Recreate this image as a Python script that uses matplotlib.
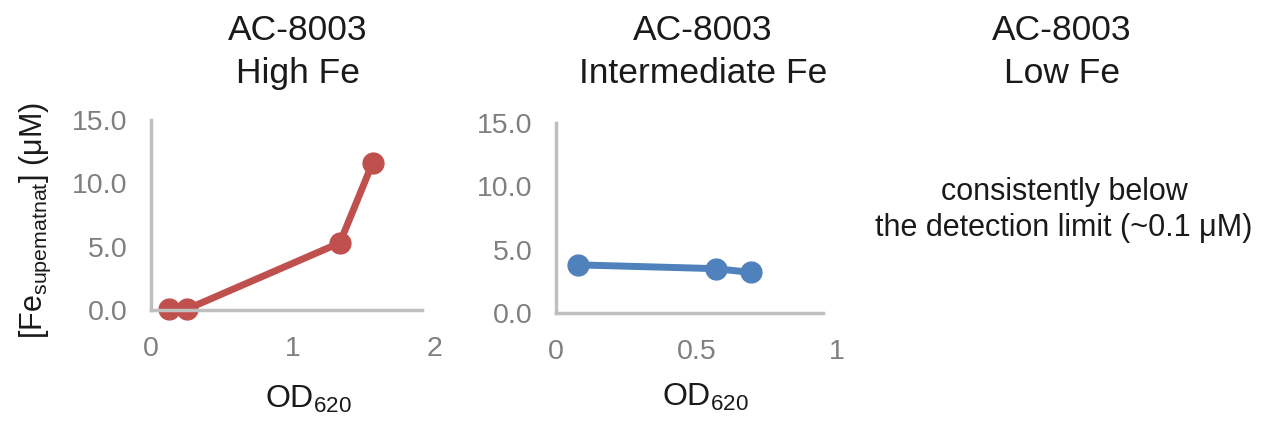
import matplotlib
matplotlib.use("Agg")
import matplotlib.pyplot as plt

plt.rcParams['font.family'] = ['Liberation Sans', 'DejaVu Sans']
plt.rcParams['mathtext.fontset'] = 'custom'
plt.rcParams['mathtext.rm'] = 'Liberation Sans'
plt.rcParams['mathtext.it'] = 'Liberation Sans'
plt.rcParams['mathtext.bf'] = 'Liberation Sans'

# data
high_od = [0.13, 0.25, 1.33, 1.56]
high_fe = [0.05, 0.05, 5.3, 11.6]
inter_od = [0.077, 0.57, 0.694]
inter_fe = [3.8, 3.5, 3.2]

titles = ["AC-8003\nHigh Fe", "AC-8003\nIntermediate Fe", "AC-8003\nLow Fe"]
yticks = [0, 5, 10, 15]
ytick_labels = ["0.0", "5.0", "10.0", "15.0"]
x1_ticks = [0, 1, 2]
x2_ticks = [0, 0.5, 1]
x2_labels = ["0", "0.5", "1"]
note = "consistently below\nthe detection limit (~0.1 \u03bcM)"

RED = "#C0504D"
BLUE = "#4F81BD"
SPINE = "#BFBFBF"
TICKC = "#7F7F7F"
TXT = "#1a1a1a"

fig = plt.figure(figsize=(12.69, 4.26), dpi=100)
W, H = 1269, 426

def mkax(left, bottom_px, width, height):
    return fig.add_axes([left / W, 1 - bottom_px / H, width / W, height / H])

ax1 = mkax(151, 310, 284, 190)
ax2 = mkax(556, 313, 281, 190)

def style(ax, xmax, xend):
    for s in ["top", "right"]:
        ax.spines[s].set_visible(False)
    for s in ["left", "bottom"]:
        ax.spines[s].set_color(SPINE)
        ax.spines[s].set_linewidth(2.5)
    ax.set_xlim(0, xmax)
    ax.set_ylim(0, 15)
    ax.spines["bottom"].set_bounds(0, xend)
    ax.set_yticks(yticks)
    ax.set_yticklabels(ytick_labels)
    ax.tick_params(length=0, labelsize=20.5, labelcolor=TICKC)
    ax.tick_params(axis="y", pad=17)
    ax.tick_params(axis="x", pad=19)
    ax.patch.set_visible(False)

ax1.plot(high_od, high_fe, color=RED, lw=5, marker="o", ms=15, clip_on=False,
         solid_capstyle="round")
style(ax1, 2, 1.91)
ax1.set_xticks(x1_ticks)
ax1.set_xticklabels([str(v) for v in x1_ticks])

ax2.plot(inter_od, inter_fe, color=BLUE, lw=5, marker="o", ms=15, clip_on=False,
         solid_capstyle="round")
style(ax2, 1, 0.95)
ax2.set_xticks(x2_ticks)
ax2.set_xticklabels(x2_labels)

# titles
for xc, t in zip([298, 703, 1062], titles):
    fig.text(xc / W, 1 - 52 / H, t, ha="center", va="center", fontsize=25.5,
             color=TXT, linespacing=1.35)

# x labels
for xc, yb in [(308, 408), (705, 406)]:
    fig.text(xc / W, 1 - yb / H, "OD$_{620}$", ha="center", va="baseline",
             fontsize=23, color=TXT)

# y label
fig.text(35 / W, 1 - 220 / H, "[Fe$_{\\mathregular{supematnat}}$] (\u03bcM)",
         rotation=90, ha="center", va="center", fontsize=22, color=TXT)

fig.text(1064 / W, 1 - 210 / H, note, ha="center", va="center", fontsize=22,
         color=TXT, linespacing=1.3)

fig.savefig("out.png", dpi=100)
